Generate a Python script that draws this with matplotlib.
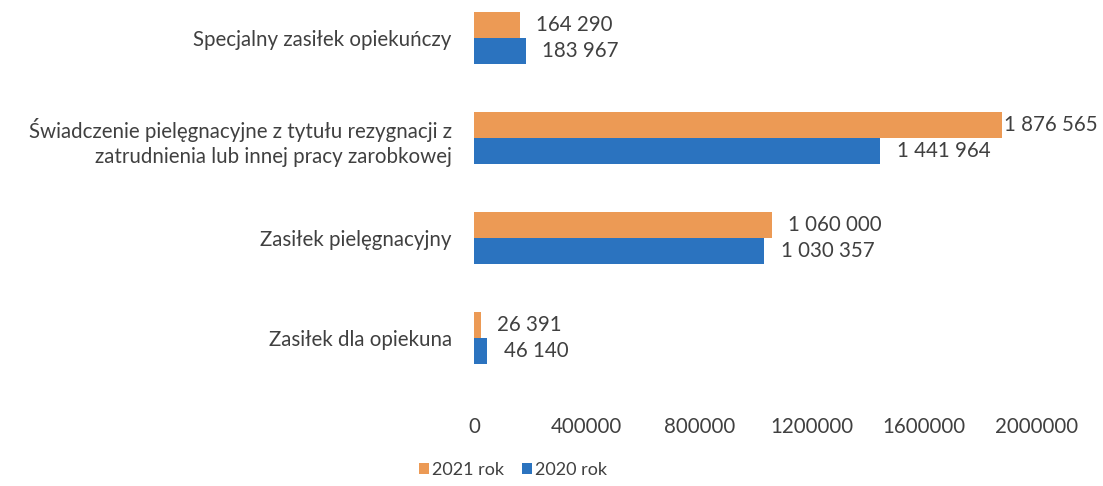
import matplotlib
matplotlib.use("Agg")
import matplotlib.pyplot as plt
import numpy as np

categories = [
    "Specjalny zasiłek opiekuńczy",
    "Świadczenie pielęgnacyjne z tytułu rezygnacji z\nzatrudnienia lub innej pracy zarobkowej",
    "Zasiłek pielęgnacyjny",
    "Zasiłek dla opiekuna",
]
values_2021 = [164290, 1876565, 1060000, 26391]
values_2020 = [183967, 1441964, 1030357, 46140]
series_names = ["2021 rok", "2020 rok"]
xticks = [0, 400000, 800000, 1200000, 1600000, 2000000]

plt.rcParams['font.family'] = ['Lato', 'DejaVu Sans']
FS = 14.8
W, H = 1103, 486
fig = plt.figure(figsize=(W / 100, H / 100), dpi=100)
left, right = 474 / W, 1037 / W
top_px, bot_px = 5, 395
ax = fig.add_axes([left, 1 - bot_px / H, right - left, (bot_px - top_px) / H])

c_or = "#EC9A55"
c_bl = "#2B73BF"
txt = "#404040"
y = np.arange(len(categories))
h = 0.26
ax.barh(y - h / 2, values_2021, height=h, color=c_or, label=series_names[0])
ax.barh(y + h / 2, values_2020, height=h, color=c_bl, label=series_names[1])

labels = []
for yi, v in zip(y, values_2021):
    labels.append(ax.annotate(f"{v:,}".replace(",", " "), (v, yi - h / 2), xytext=(11, 0),
                              textcoords="offset points", va="center", ha="left",
                              fontsize=FS, color=txt, annotation_clip=False))
for yi, v in zip(y, values_2020):
    labels.append(ax.annotate(f"{v:,}".replace(",", " "), (v, yi + h / 2), xytext=(12, 0),
                              textcoords="offset points", va="center", ha="left",
                              fontsize=FS, color=txt, annotation_clip=False))

ax.set_xlim(0, 2000000)
ax.set_ylim((bot_px - 38) / 100, (top_px - 38) / 100)
ax.set_yticks(y)
ax.set_yticklabels(categories, fontsize=FS, color=txt, linespacing=1.3)
ax.set_xticks(xticks)
ax.set_xticklabels([str(t) for t in xticks], fontsize=FS, color=txt)
ax.tick_params(axis="both", length=0)
ax.tick_params(axis="y", pad=16)
ax.tick_params(axis="x", pad=16)
for s in ax.spines.values():
    s.set_visible(False)

fig.legend(loc="center", bbox_to_anchor=(513 / W, 1 - 470 / H), ncol=2, frameon=False,
           fontsize=13, handlelength=0.55, handleheight=0.55, handletextpad=0.15,
           columnspacing=1.0, labelcolor=txt)

# keep value labels inside the figure (shift left if they would overflow)
fig.canvas.draw()
r = fig.canvas.get_renderer()
for t in labels:
    bb = t.get_window_extent(r)
    over = bb.x1 - (W - 5)
    if over > 0:
        dx, dy = t.xyann
        t.xyann = (dx - over * 72 / fig.dpi, dy)

fig.savefig("out.png", dpi=100)
